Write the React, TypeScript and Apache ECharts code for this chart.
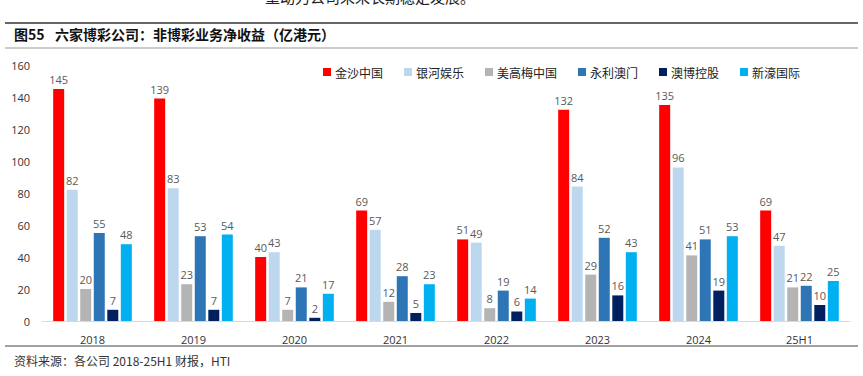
import React, { useEffect, useRef } from "react";
import * as echarts from "echarts";

const categories = ["2018", "2019", "2020", "2021", "2022", "2023", "2024", "25H1"];
const seriesNames = ["金沙中国", "银河娱乐", "美高梅中国", "永利澳门", "澳博控股", "新濠国际"];
const sands = [145, 139, 40, 69, 51, 132, 135, 69];
const galaxy = [82, 83, 43, 57, 49, 84, 96, 47];
const mgm = [20, 23, 7, 12, 8, 29, 41, 21];
const wynn = [55, 53, 21, 28, 19, 52, 51, 22];
const sjm = [7, 7, 2, 5, 6, 16, 19, 10];
const melco = [48, 54, 17, 23, 14, 43, 53, 25];
const colors = ["#FF0000", "#BDD7EE", "#B4B4B4", "#2E75B6", "#002060", "#00B0F0"];
const yTicks = [0, 20, 40, 60, 80, 100, 120, 140, 160];

const figureNo = "图55";
const titleText = "六家博彩公司：非博彩业务净收益（亿港元）";
const sourceText = "资料来源：各公司 2018-25H1 财报，HTI";
const topText = "重动力公司未来长期稳定发展。";

export default function App() {
  const ref = useRef<HTMLDivElement>(null);
  useEffect(() => {
    if (!ref.current) return;
    const chart = echarts.init(ref.current, null, { renderer: "svg" });
    const data = [sands, galaxy, mgm, wynn, sjm, melco];
    const font = "'Noto Sans CJK SC', 'Noto Sans', sans-serif";
    chart.setOption({
      animation: false,
      textStyle: { fontFamily: font },
      grid: { left: 42, right: 13, top: 65, bottom: 55, containLabel: false },
      legend: {
        top: 61,
        left: 318,
        itemWidth: 8,
        itemHeight: 8,
        itemGap: 21,
        icon: "rect",
        textStyle: { fontSize: 12, color: "#222", fontFamily: font, padding: [0, 0, 0, -1] },
        data: seriesNames,
      },
      xAxis: {
        type: "category",
        data: categories,
        axisLine: { lineStyle: { color: "#D9D9D9", width: 1 } },
        axisTick: { show: false },
        axisLabel: { color: "#333", fontSize: 11, margin: 13, fontFamily: "'Open Sans', sans-serif" },
      },
      yAxis: {
        type: "value",
        min: yTicks[0],
        max: yTicks[yTicks.length - 1],
        interval: 20,
        axisLine: { show: false },
        axisTick: { show: false },
        splitLine: { show: false },
        axisLabel: { color: "#333", fontSize: 11, margin: 12, fontFamily: "'Open Sans', sans-serif" },
      },
      series: seriesNames.map((name, i) => ({
        name,
        type: "bar",
        data: data[i],
        barWidth: 11,
        barGap: "23%",
        itemStyle: { color: colors[i] },
        label: {
          show: true,
          position: "top",
          distance: 4,
          color: "#595959",
          fontSize: 11,
          fontFamily: "'Open Sans', sans-serif",
        },
      })),
      graphic: [
        {
          type: "text",
          left: 265,
          top: -11,
          style: { text: topText, fontSize: 15, fill: "#222", fontFamily: "'Noto Sans CJK SC', serif" },
        },
        { type: "line", shape: { x1: 5, y1: 23, x2: 858, y2: 23 }, style: { stroke: "#333", lineWidth: 1.5 } },
        {
          type: "text",
          left: 14,
          top: 27,
          style: { text: figureNo, fontSize: 14, fontWeight: "bold", fill: "#111", fontFamily: font },
        },
        {
          type: "text",
          left: 55,
          top: 27,
          style: { text: titleText, fontSize: 14, fontWeight: "bold", fill: "#111", fontFamily: font },
        },
        { type: "line", shape: { x1: 5, y1: 48, x2: 858, y2: 48 }, style: { stroke: "#999", lineWidth: 1 } },
        { type: "line", shape: { x1: 5, y1: 346, x2: 858, y2: 346 }, style: { stroke: "#444", lineWidth: 1 } },
        {
          type: "text",
          left: 14,
          top: 354,
          style: { text: sourceText, fontSize: 12, fill: "#333", fontFamily: font },
        },
      ],
    });
    return () => chart.dispose();
  }, []);
  return (
    <div
      ref={ref}
      style={{ position: "fixed", left: 0, top: 0, width: 863, height: 376, background: "#fff" }}
    />
  );
}
